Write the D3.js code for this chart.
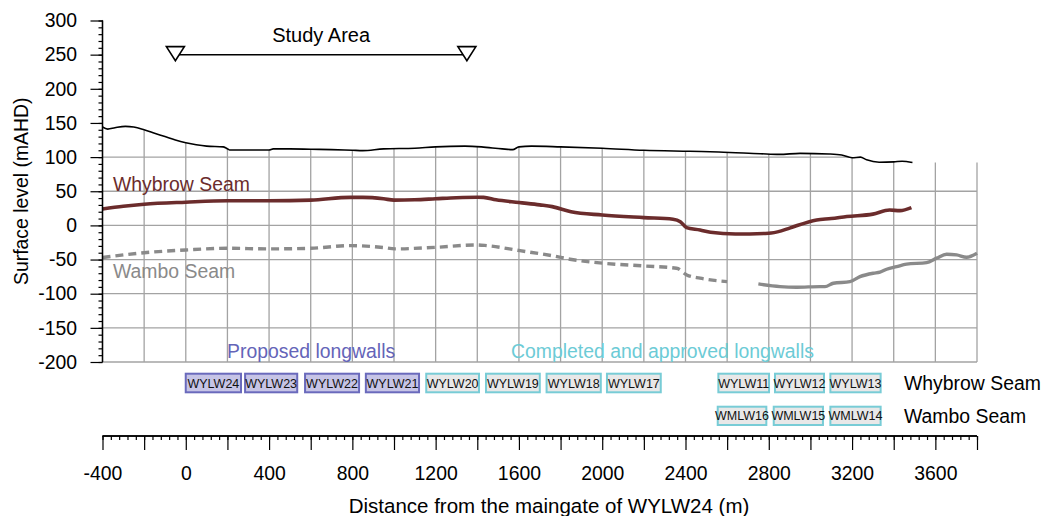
<!DOCTYPE html>
<html><head><meta charset="utf-8">
<script src="https://cdn.jsdelivr.net/npm/d3@7"></script>
<style>body{margin:0;background:#fff}svg{display:block}text{font-family:"Liberation Sans",Arial,sans-serif}</style>
</head><body><svg id="c" width="1041" height="516"></svg>
<script>
// ---- data ----
const surface = [[-400,144],[-375,141],[-340,143],[-290,145],[-250,144],[-200,140],[-150,135],[-100,130],[-50,125],[0,121],[50,118],[100,116],[180,115],[195,113],[210,110.5],[300,110.5],[400,110.5],[420,112],[500,112],[600,111.5],[700,111],[800,110],[850,109.5],[950,112],[1100,113],[1200,115],[1340,116],[1420,115],[1520,112],[1570,111],[1600,115],[1660,116],[1800,115],[2000,113],[2200,110],[2420,108.5],[2560,107.5],[2760,105],[2850,104],[2950,105.5],[3090,104.5],[3150,103],[3200,99],[3240,100],[3270,96],[3330,92.5],[3400,93],[3440,94],[3490,92]];
const whybrow = [[-400,24],[-300,28],[-200,31],[0,34],[200,36],[400,36],[600,37],[790,41],[850,41],[950,39],[1000,37],[1100,37.5],[1200,39],[1300,40.5],[1400,41.2],[1430,41],[1490,37.5],[1600,33.5],[1700,30],[1760,27.5],[1850,20],[2000,15.3],[2200,11.4],[2340,9],[2375,5.5],[2405,-3.3],[2470,-6.6],[2520,-10],[2640,-12.5],[2800,-11.5],[2860,-8],[2900,-4],[3030,8],[3100,10],[3175,13],[3300,16.5],[3380,22.5],[3430,21.6],[3485,26]];
const wamboPlanned = [[-400,-47],[-200,-40],[0,-36],[200,-33.5],[400,-34.4],[600,-33.5],[790,-29.6],[950,-32.5],[1005,-34.4],[1205,-32],[1397,-28.6],[1445,-29.6],[1605,-37],[1765,-44.7],[1845,-49.5],[2005,-55.4],[2197,-59.3],[2357,-62.7],[2406,-72.5],[2470,-77.3],[2600,-82.3]];
const wamboActual = [[2750,-85.7],[2854,-89.6],[2934,-90.5],[3046,-89.6],[3070,-89.6],[3110,-84.7],[3190,-82.3],[3238,-75],[3302,-70],[3334,-68.5],[3366,-64.2],[3414,-60.4],[3462,-56.8],[3558,-54.5],[3606,-48],[3654,-42.2],[3702,-43.2],[3750,-46.6],[3800,-40.8]];
const studyArea = [-50, 1350];
const studyAreaLevel = 250;
const proposedNames = ["WYLW24","WYLW23","WYLW22","WYLW21"];
const proposedSpans = [[-5,270],[280,540],[568,837],[860,1125]];
const completedWyNames = ["WYLW20","WYLW19","WYLW18","WYLW17","WYLW11","WYLW12","WYLW13"];
const completedWySpans = [[1150,1413],[1437,1705],[1728,1998],[2018,2286],[2553,2806],[2825,3070],[3091,3342]];
const wamboNames = ["WMLW16","WMLW15","WMLW14"];
const wamboSpans = [[2550,2793],[2819,3065],[3091,3342]];
const xTickLabels = [-400,0,400,800,1200,1600,2000,2400,2800,3200,3600];
const yTickLabels = [300,250,200,150,100,50,0,-50,-100,-150,-200];

// ---- scales ----
const svg = d3.select("#c");
const x = d3.scaleLinear().domain([-400,3800]).range([102.5,977]);
const y = d3.scaleLinear().domain([-200,300]).range([362,20.5]);
const FS = 19.4;
const fmt = d => String(d);

// grid
const g = svg.append("g");
d3.range(-200,3801,200).forEach(v=>{
  g.append("line").attr("x1",x(v)).attr("x2",x(v)).attr("y1",y(-200)).attr("y2",y(300))
   .attr("stroke","#a3a3a3").attr("stroke-width",1.3);
});
d3.range(-200,301,50).forEach(v=>{
  g.append("line").attr("x1",x(-400)).attr("x2",x(3800)).attr("y1",y(v)).attr("y2",y(v))
   .attr("stroke","#a3a3a3").attr("stroke-width",1.3);
});
// white mask above ground surface (extended past the right edge)
const surfExt = surface.concat([[3900, surface[surface.length-1][1]]]);
svg.append("path").datum(surfExt)
  .attr("d", d3.area().x(d=>x(d[0])).y0(0).y1(d=>y(d[1])))
  .attr("fill","#fff");

const line = d3.line().x(d=>x(d[0])).y(d=>y(d[1])).curve(d3.curveMonotoneX);
svg.append("path").datum(surface).attr("d",line).attr("fill","none").attr("stroke","#000").attr("stroke-width",1.6);
svg.append("path").datum(whybrow).attr("d",line).attr("fill","none").attr("stroke","#6b2c2c").attr("stroke-width",3.6);
svg.append("path").datum(wamboPlanned).attr("d",line).attr("fill","none").attr("stroke","#8a8a8a").attr("stroke-width",3.4).attr("stroke-dasharray","8,5");
svg.append("path").datum(wamboActual).attr("d",line).attr("fill","none").attr("stroke","#8a8a8a").attr("stroke-width",3.4);

// y axis
const ya = svg.append("g").attr("transform",`translate(${x(-400)},0)`);
ya.call(d3.axisLeft(y).tickValues(d3.range(-200,301,10)).tickSize(4).tickFormat(""));
ya.append("g").call(d3.axisLeft(y).tickValues(yTickLabels).tickSize(12).tickFormat(fmt));
ya.selectAll(".domain").attr("stroke","#000").attr("stroke-width",1.3);
ya.selectAll("line").attr("stroke","#000").attr("stroke-width",1.2);
ya.selectAll("text").attr("font-size",FS).attr("fill","#000").attr("x",-25.5).attr("font-family","Liberation Sans, Arial, sans-serif");
ya.selectAll("path.domain").attr("d",`M0,${y(300)}V${y(-200)}`);

svg.append("text").attr("transform",`translate(28,${(y(300)+y(-200))/2}) rotate(-90)`)
  .attr("text-anchor","middle").attr("font-size",FS).text("Surface level (mAHD)");

// x axis
const axY = 436;
const xa = svg.append("g").attr("transform",`translate(0,${axY})`);
xa.call(d3.axisBottom(x).tickValues(d3.range(-400,3801,40)).tickSize(4).tickFormat(""));
xa.append("g").call(d3.axisBottom(x).tickValues(d3.range(-400,3801,200)).tickSize(14).tickFormat(""));
xa.append("g").call(d3.axisBottom(x).tickValues(xTickLabels).tickSize(0).tickPadding(30).tickFormat(fmt))
  .select(".domain").remove();
xa.selectAll(".domain").attr("stroke","#000").attr("stroke-width",1.3).attr("d",`M${x(-400)},0H${x(3800)}`);
xa.selectAll("line").attr("stroke","#000").attr("stroke-width",1.2);
xa.selectAll("text").attr("font-size",FS).attr("fill","#000").attr("font-family","Liberation Sans, Arial, sans-serif");

svg.append("text").attr("x",549).attr("y",513).attr("text-anchor","middle").attr("font-size",20.5)
  .text("Distance from the maingate of WYLW24 (m)");

// study area
svg.append("line").attr("x1",x(studyArea[0])).attr("x2",x(studyArea[1])).attr("y1",y(studyAreaLevel)).attr("y2",y(studyAreaLevel))
  .attr("stroke","#000").attr("stroke-width",1.5);
studyArea.forEach(v=>{
  const cx=x(v), cy=y(studyAreaLevel);
  svg.append("path").attr("d",`M${cx-9},${cy-8}L${cx+9},${cy-8}L${cx},${cy+6}Z`)
    .attr("fill","#fff").attr("stroke","#000").attr("stroke-width",1.6);
});
svg.append("text").attr("x",x((studyArea[0]+studyArea[1])/2)).attr("y",42).attr("text-anchor","middle").attr("font-size",20).text("Study Area");

// seam labels
svg.append("text").attr("x",113).attr("y",191).attr("font-size",FS).attr("fill","#6b2c2c").text("Whybrow Seam");
svg.append("text").attr("x",113).attr("y",278).attr("font-size",FS).attr("fill","#8a8a8a").text("Wambo Seam");
svg.append("text").attr("x",227).attr("y",358).attr("font-size",FS).attr("fill","#6464b8").text("Proposed longwalls");
svg.append("text").attr("x",511).attr("y",358).attr("font-size",FS).attr("fill","#6ccbd6").text("Completed and approved longwalls");

// longwall boxes (spans are outer edges; stroke drawn inside)
function boxes(names, spans, top, h, fill, stroke){
  spans.forEach((s,i)=>{
    svg.append("rect").attr("x",x(s[0])+1).attr("y",top+1).attr("width",x(s[1])-x(s[0])-2).attr("height",h-2)
      .attr("fill",fill).attr("stroke",stroke).attr("stroke-width",2);
    svg.append("text").attr("x",(x(s[0])+x(s[1]))/2).attr("y",top+h/2+4.5).attr("text-anchor","middle")
      .attr("font-size",12.5).attr("fill","#111").text(names[i]);
  });
}
boxes(proposedNames, proposedSpans, 372.7, 20.6, "#c6c4e6", "#6a6abc");
boxes(completedWyNames, completedWySpans, 372.7, 20.6, "#e8e8e8", "#78ccd6");
boxes(wamboNames, wamboSpans, 405.7, 20.3, "#e8e8e8", "#78ccd6");
svg.append("text").attr("x",904).attr("y",390).attr("font-size",FS).text("Whybrow Seam");
svg.append("text").attr("x",904).attr("y",423).attr("font-size",FS).text("Wambo Seam");
</script></body></html>
